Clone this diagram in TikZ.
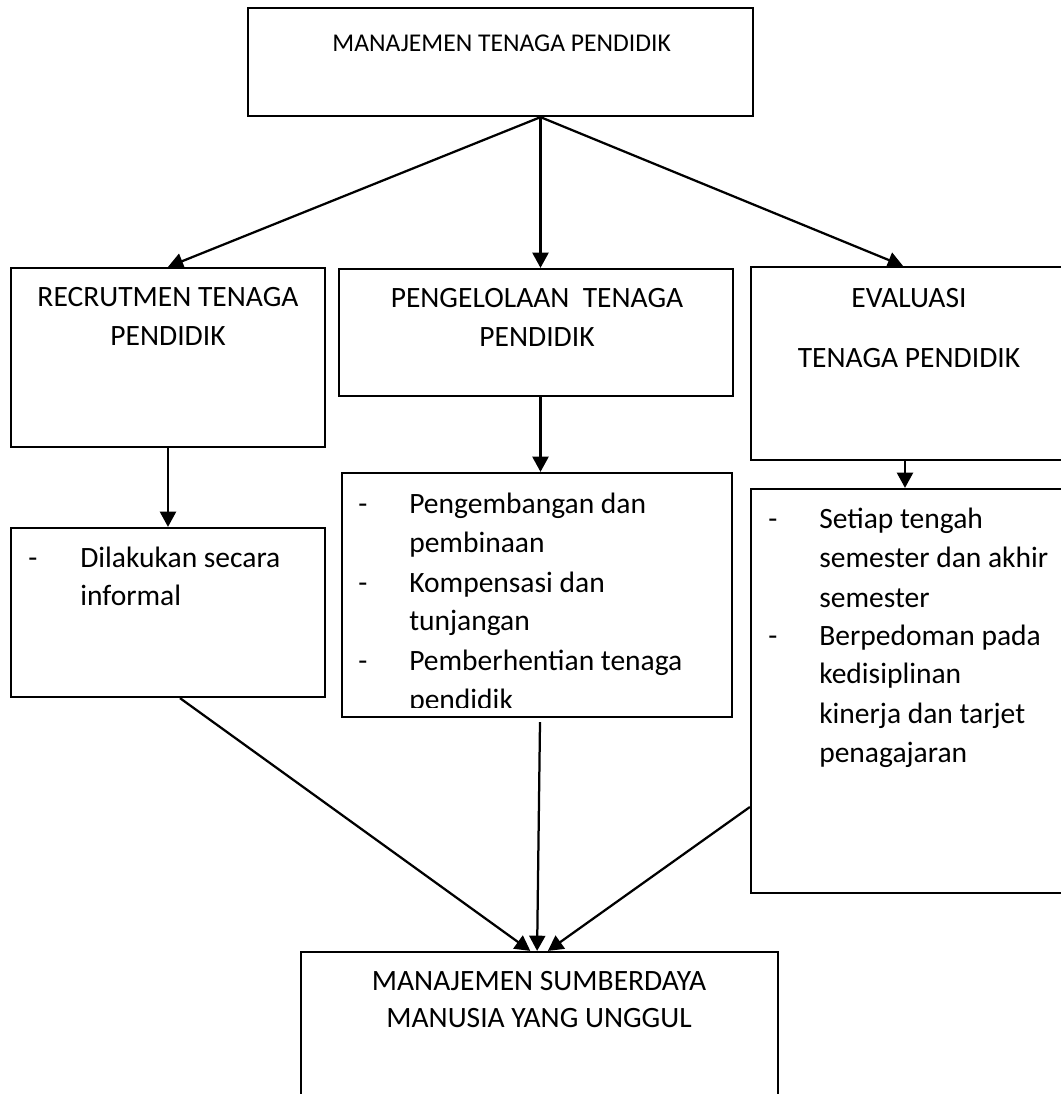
\documentclass[tikz,border=0pt]{standalone}
\usepackage{fontspec}
\setmainfont{Carlito}
\usetikzlibrary{arrows.meta, positioning, calc}

\begin{document}
\begin{tikzpicture}[
    box/.style={draw, line width=1.6pt, inner sep=0pt},
    txt/.style={font=\fontsize{21}{25}\selectfont, inner sep=0pt},
    arr/.style={-{Triangle[length=3.8mm, width=4mm]}, line width=1.6pt}
  ]
        \useasboundingbox (0,0) rectangle (26.525,-27.35);
        \node[box, minimum width=12.625cm, minimum height=2.7cm] (top) at (12.5125,-1.55) {};
        \node[box, minimum width=7.85cm, minimum height=4.475cm] (rec) at (4.2,-8.9375) {};
        \node[box, minimum width=9.85cm, minimum height=3.175cm] (peng) at (13.4,-8.3125) {};
        \node[box, minimum width=7.9cm, minimum height=4.825cm] (eval) at (22.725,-9.0875) {};
        \node[box, minimum width=7.85cm, minimum height=4.225cm] (recd) at (4.2,-15.3125) {};
        \node[box, minimum width=9.75cm, minimum height=6.1cm] (pengd) at (13.425,-14.875) {};
        \node[box, minimum width=7.9cm, minimum height=10.1cm] (evald) at (22.725,-17.275) {};
        \node[box, minimum width=11.925cm, minimum height=3.95cm] (bot) at (13.4875,-25.775) {};
        \node[txt, font=\fontsize{18.2}{22}\selectfont, anchor=base] (topt) at (12.54,-1.2875) {MANAJEMEN TENAGA PENDIDIK};
        \node[txt, anchor=base] (rect1) at (4.2,-7.65) {RECRUTMEN TENAGA};
        \node[txt, anchor=base] (rect2) at (4.2,-8.625) {PENDIDIK};
        \node[txt, anchor=base] (pengt1) at (13.425,-7.675) {PENGELOLAAN\ \ TENAGA};
        \node[txt, anchor=base] (pengt2) at (13.425,-8.65) {PENDIDIK};
        \node[txt, anchor=base] (evalt1) at (22.725,-7.675) {EVALUASI};
        \node[txt, anchor=base] (evalt2) at (22.725,-9.175) {TENAGA PENDIDIK};
        \node[txt, anchor=base] (bott1) at (13.475,-24.75) {MANAJEMEN SUMBERDAYA};
        \node[txt, anchor=base] (bott2) at (13.475,-25.675) {MANUSIA YANG UNGGUL};
        \foreach \i/\y in {1/-14.175} {
          \node[txt, anchor=base] (recdash\i) at (0.825,\y) {-};
        }
        \foreach \i/\y/\t in {1/-14.175/Dilakukan secara, 2/-15.125/informal} {
          \node[txt, anchor=base west] (recl\i) at (2.0,\y) {\t};
        }
        \foreach \i/\y in {1/-12.825, 2/-14.8, 3/-16.75} {
          \node[txt, anchor=base] (pengdash\i) at (9.075,\y) {-};
        }
        \begin{scope}
          \clip (pengd.north west) rectangle ([yshift=2.75mm]pengd.south east);
          \foreach \i/\y/\t in {1/-12.825/Pengembangan dan, 2/-13.8/pembinaan,
              3/-14.8/Kompensasi dan, 4/-15.75/tunjangan,
              5/-16.75/Pemberhentian tenaga, 6/-17.725/pendidik} {
            \node[txt, anchor=base west] (pengl\i) at (10.225,\y) {\t};
          }
        \end{scope}
        \foreach \i/\y in {1/-13.2, 2/-16.125} {
          \node[txt, anchor=base] (evaldash\i) at (19.325,\y) {-};
        }
        \foreach \i/\y/\t in {1/-13.2/Setiap tengah, 2/-14.175/semester dan akhir,
            3/-15.175/semester, 4/-16.125/Berpedoman pada, 5/-17.075/kedisiplinan,
            6/-18.075/kinerja dan tarjet, 7/-19.05/penagajaran} {
          \node[txt, anchor=base west] (evall\i) at (20.475,\y) {\t};
        }
        \coordinate (hub) at ([xshift=1cm]top.south);
        \draw[arr] (hub) -- (rec.north);
        \draw[arr] (hub) -- (hub |- peng.north);
        \draw[arr] (hub) -- ([xshift=-0.15cm]eval.north);
        \draw[arr] (rec.south) -- (recd.north);
        \draw[arr] (hub |- peng.south) -- (hub |- pengd.north);
        \draw[arr] ([xshift=-0.1cm]eval.south) -- ([xshift=-0.1cm]evald.north);
        \draw[arr] ([xshift=3mm]recd.south) -- ([xshift=-2.3mm]bot.north);
        \draw[arr] ([xshift=0.75mm, yshift=-1mm]pengd.south) -- ([xshift=-0.6mm]bot.north);
        \draw[arr] ([yshift=-2.9cm]evald.west) -- ([xshift=2.1mm]bot.north);
      \end{tikzpicture}
\end{document}
